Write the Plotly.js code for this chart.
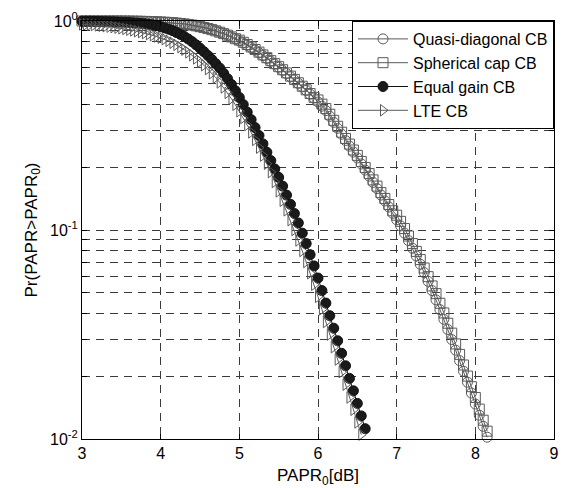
<!DOCTYPE html>
<html>
<head>
<meta charset="utf-8">
<script src="https://cdn.plot.ly/plotly-3.0.1.min.js"></script>
<style>html,body{margin:0;padding:0;background:#fff;}#chart{width:564px;height:488px;}</style>
</head>
<body>
<div id="chart"></div>
<script>
// PAPR0 sample points (dB)
const papr0 = [
3.00,3.05,3.10,3.15,3.20,3.25,3.30,3.35,3.40,3.45,
3.50,3.55,3.60,3.65,3.70,3.75,3.80,3.85,3.90,3.95,
4.00,4.05,4.10,4.15,4.20,4.25,4.30,4.35,4.40,4.45,
4.50,4.55,4.60,4.65,4.70,4.75,4.80,4.85,4.90,4.95,
5.00,5.05,5.10,5.15,5.20,5.25,5.30,5.35,5.40,5.45,
5.50,5.55,5.60,5.65,5.70,5.75,5.80,5.85,5.90,5.95,
6.00,6.05,6.10,6.15,6.20,6.25,6.30,6.35,6.40,6.45,
6.50,6.55,6.60,6.65,6.70,6.75,6.80,6.85,6.90,6.95,
7.00,7.05,7.10,7.15,7.20,7.25,7.30,7.35,7.40,7.45,
7.50,7.55,7.60,7.65,7.70,7.75,7.80,7.85,7.90,7.95,
8.00,8.05,8.10,8.15];

const quasiDiag = [
0.9998,0.9998,0.9998,0.9998,0.9995,0.9995,0.9995,0.9995,0.9995,0.9993,
0.9993,0.9988,0.9984,0.9979,0.9972,0.9965,0.9956,0.9945,0.9929,0.9908,
0.9883,0.9865,0.9842,0.9813,0.9775,0.9727,0.9683,0.9627,0.9561,0.9484,
0.9397,0.9305,0.9202,0.9091,0.8970,0.8841,0.8703,0.8555,0.8395,0.8225,
0.8045,0.7856,0.7662,0.7461,0.7256,0.7047,0.6834,0.6624,0.6415,0.6209,
0.6005,0.5804,0.5605,0.5410,0.5218,0.5029,0.4840,0.4652,0.4465,0.4280,
0.4097,0.3912,0.3726,0.3499,0.3273,0.3065,0.2871,0.2679,0.2518,0.2360,
0.2213,0.2070,0.1936,0.1811,0.1690,0.1578,0.1469,0.1377,0.1288,0.1202,
0.1119,0.1046,0.0966,0.0890,0.0818,0.0751,0.0686,0.0625,0.0568,0.0513,
0.0463,0.0416,0.0374,0.0334,0.0299,0.0266,0.0237,0.0211,0.0187,0.0166,
0.0147,0.0130,0.0115,0.0102];

const sphericalCap = [
0.9998,0.9998,0.9998,0.9998,0.9995,0.9995,0.9995,0.9995,0.9995,0.9993,
0.9993,0.9988,0.9984,0.9979,0.9972,0.9965,0.9956,0.9945,0.9929,0.9908,
0.9883,0.9865,0.9842,0.9813,0.9775,0.9727,0.9683,0.9627,0.9561,0.9484,
0.9397,0.9305,0.9202,0.9091,0.8970,0.8841,0.8703,0.8555,0.8395,0.8225,
0.8101,0.7911,0.7716,0.7513,0.7307,0.7096,0.6882,0.6670,0.6460,0.6252,
0.6047,0.5845,0.5644,0.5448,0.5255,0.5064,0.4874,0.4685,0.4496,0.4310,
0.4191,0.4002,0.3812,0.3579,0.3348,0.3135,0.2937,0.2741,0.2576,0.2414,
0.2275,0.2128,0.1990,0.1862,0.1737,0.1622,0.1510,0.1416,0.1324,0.1236,
0.1177,0.1100,0.1016,0.0936,0.0861,0.0790,0.0722,0.0658,0.0598,0.0540,
0.0496,0.0446,0.0401,0.0358,0.0321,0.0285,0.0254,0.0226,0.0200,0.0178,
0.0158,0.0139,0.0123,0.0109];

const equalGain = [
0.9977,0.9972,0.9968,0.9961,0.9954,0.9943,0.9931,0.9920,0.9908,0.9890,
0.9872,0.9854,0.9840,0.9806,0.9777,0.9743,0.9705,0.9643,0.9576,0.9495,
0.9376,0.9268,0.9141,0.8995,0.8810,0.8630,0.8433,0.8204,0.7962,0.7691,
0.7413,0.7129,0.6839,0.6546,0.6252,0.5957,0.5623,0.5297,0.4966,0.4634,
0.4305,0.3981,0.3664,0.3373,0.3090,0.2831,0.2582,0.2355,0.2148,0.1959,
0.1786,0.1622,0.1469,0.1327,0.1199,0.1081,0.0966,0.0861,0.0762,0.0673,
0.0589,0.0513,0.0447,0.0389,0.0339,0.0295,0.0257,0.0224,0.0195,0.0170,
0.0148,0.0129,0.0112];

const lteCB = [
0.9638,0.9616,0.9594,0.9561,0.9528,0.9484,0.9441,0.9397,0.9344,0.9290,
0.9226,0.9162,0.9089,0.9016,0.8933,0.8851,0.8750,0.8650,0.8551,0.8433,
0.8318,0.8185,0.8035,0.7870,0.7691,0.7499,0.7295,0.7079,0.6855,0.6622,
0.6383,0.6138,0.5888,0.5623,0.5358,0.5082,0.4808,0.4529,0.4246,0.3972,
0.3698,0.3436,0.3177,0.2931,0.2698,0.2477,0.2270,0.2075,0.1892,0.1698,
0.1531,0.1380,0.1242,0.1114,0.1000,0.0891,0.0794,0.0703,0.0621,0.0547,
0.0479,0.0417,0.0363,0.0316,0.0275,0.0240,0.0209,0.0182,0.0158,0.0138,
0.0120,0.0105];

const seriesNames = ['Quasi-diagonal CB','Spherical cap CB','Equal gain CB','LTE CB'];
const xTicks = [3,4,5,6,7,8,9];
const yTickVals = [0.01,0.1,1];
const yTickText = ['10<sup>-2</sup>','10<sup>-1</sup>','10<sup>0</sup>'];
const yMinorVals = [0.02,0.03,0.04,0.05,0.06,0.07,0.08,0.09,0.2,0.3,0.4,0.5,0.6,0.7,0.8,0.9];

const gray = '#5a5a5a';
const gridC = '#3a3a3a';
const FONT = 'Liberation Sans, Arial, Helvetica, sans-serif';

const traces = [
  {x: papr0.slice(0, quasiDiag.length), y: quasiDiag, name: seriesNames[0], mode: 'lines+markers', cliponaxis: false,
   line: {color: gray, width: 1},
   marker: {symbol: 'circle-open', size: 10, color: gray, line: {width: 1, color: gray}}},
  {x: papr0.slice(0, sphericalCap.length), y: sphericalCap, name: seriesNames[1], mode: 'lines+markers', cliponaxis: false,
   line: {color: gray, width: 1},
   marker: {symbol: 'square-open', size: 10, color: gray, line: {width: 1, color: gray}}},
  {x: papr0.slice(0, equalGain.length), y: equalGain, name: seriesNames[2], mode: 'lines+markers', cliponaxis: false,
   line: {color: '#111', width: 1},
   marker: {symbol: 'circle', size: 10, color: '#1a1a1a', line: {width: 1, color: '#111'}}},
  {x: papr0.slice(0, lteCB.length), y: lteCB, name: seriesNames[3], mode: 'lines+markers', cliponaxis: false,
   line: {color: gray, width: 1},
   marker: {symbol: 'triangle-right-open', size: 10, color: gray, line: {width: 1, color: gray}}}
];

const layout = {
  width: 564, height: 488,
  margin: {l: 82, r: 10, t: 21, b: 49, pad: 0},
  paper_bgcolor: '#fff', plot_bgcolor: '#fff',
  font: {family: FONT, size: 16, color: '#000'},
  showlegend: true,
  legend: {x: 1, xanchor: 'right', y: 1.0, yanchor: 'top',
    bgcolor: '#fff', bordercolor: '#000', borderwidth: 1,
    font: {family: FONT, size: 16, color: '#000'}, itemwidth: 50, tracegroupgap: 0},
  xaxis: {type: 'linear', range: [3, 9], tickmode: 'array', tickvals: xTicks,
    ticks: 'inside', ticklen: 5, tickcolor: '#000', showline: true, linecolor: '#000', linewidth: 1,
    mirror: 'ticks', showgrid: true, gridcolor: gridC, gridwidth: 1, griddash: '8px,6px',
    zeroline: false, tickfont: {family: FONT, size: 16},
    title: {text: 'PAPR<sub>0</sub>[dB]', font: {family: FONT, size: 17}, standoff: 8}},
  yaxis: {type: 'log', range: [-2, 0], tickmode: 'array', tickvals: yTickVals, ticktext: yTickText,
    ticks: 'inside', ticklen: 5, tickcolor: '#000', showline: true, linecolor: '#000', linewidth: 1,
    mirror: 'ticks', showgrid: true, gridcolor: gridC, gridwidth: 1, griddash: '8px,6px',
    minor: {tickmode: 'array', tickvals: yMinorVals, ticks: 'inside', ticklen: 5, tickcolor: '#000',
      showgrid: true, gridcolor: gridC, gridwidth: 1, griddash: '8px,6px'},
    zeroline: false, tickfont: {family: FONT, size: 16},
    title: {text: 'Pr(PAPR&gt;PAPR<sub>0</sub>)', font: {family: FONT, size: 17}, standoff: 8}}
};

Plotly.newPlot('chart', traces, layout, {displayModeBar: false, staticPlot: true});
</script>
</body>
</html>
